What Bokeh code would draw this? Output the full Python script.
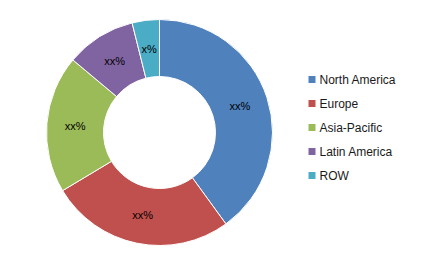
import numpy as np
from bokeh.plotting import figure
from bokeh.models import ColumnDataSource, Range1d
from bokeh.core.properties import value
from bokeh.embed import file_html
from bokeh.resources import INLINE

regions = ["North America", "Europe", "Asia-Pacific", "Latin America", "ROW"]
shares = [40, 26.4, 19.7, 10, 3.9]
labels = ["xx%", "xx%", "xx%", "xx%", "x%"]
colors = ["#4F81BD", "#C0504D", "#9BBB59", "#8064A2", "#4BACC6"]

W, H = 444, 255
cx, cy = 159, H - 132
r_out, r_in = 113, 56

vals = np.array(shares, dtype=float)
frac = vals / vals.sum()
cum_end = np.cumsum(frac)
cum_start = cum_end - frac
start = np.pi / 2 - 2 * np.pi * cum_end
end = np.pi / 2 - 2 * np.pi * cum_start
mid = (start + end) / 2
r_lab = (r_out + r_in) / 2

src = ColumnDataSource(dict(
    region=regions, color=colors, start=start, end=end, label=labels,
    lx=cx + r_lab * np.cos(mid), ly=cy + r_lab * np.sin(mid),
))

p = figure(width=W, height=H, output_backend="svg", toolbar_location=None,
           x_range=Range1d(0, W), y_range=Range1d(0, H),
           x_axis_location=None, y_axis_location=None, min_border=0)
p.grid.visible = False
p.outline_line_color = None
p.background_fill_color = "white"
p.border_fill_color = "white"

p.annular_wedge(x=cx, y=cy, inner_radius=r_in, outer_radius=r_out,
                start_angle="start", end_angle="end", fill_color="color",
                line_color="white", line_width=1, source=src)
p.text(x="lx", y="ly", text="label", source=src, text_align="center",
       text_baseline="middle", text_font=value("Liberation Sans"),
       text_font_size="11px", text_color="#000000")

# legend
leg_y = H - (79 + 24 * np.arange(len(regions)))
leg_src = ColumnDataSource(dict(y=leg_y, region=regions, color=colors))
p.scatter(x=311.5, y="y", marker="square", size=7, fill_color="color",
          line_color=None, source=leg_src)
p.text(x=319, y="y", text="region", source=leg_src, text_align="left",
       text_baseline="middle", text_font=value("Liberation Sans"),
       text_font_size="12px", text_color="#1a1a1a")

open("out.html", "w").write(file_html(p, INLINE))
